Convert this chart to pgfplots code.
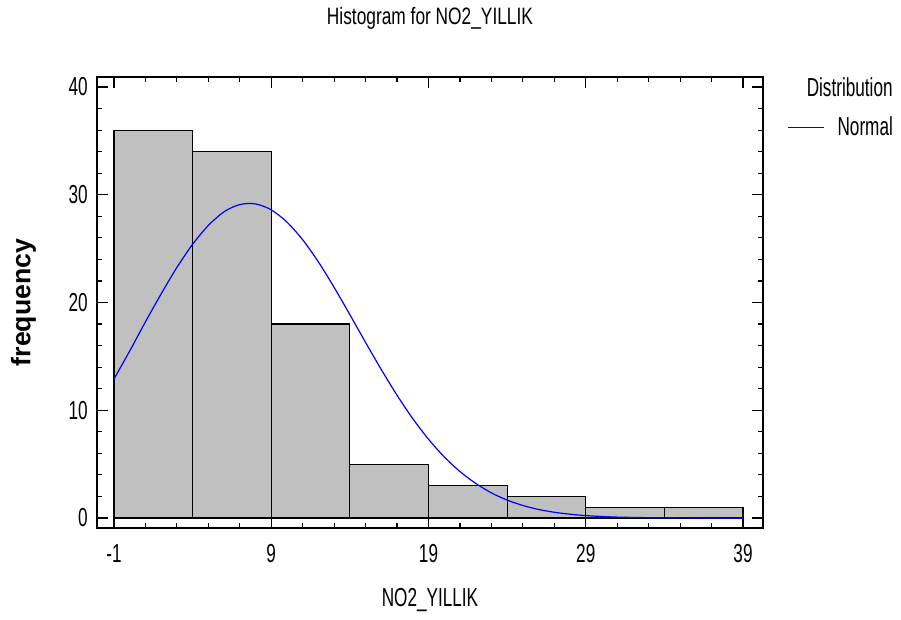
\documentclass[border=0pt]{standalone}
\usepackage{fontspec}
\setmainfont{Liberation Sans}[FakeStretch=0.66]
\newfontfamily\labfont{Liberation Sans}
\newfontfamily\titlefont{Liberation Sans}[FakeStretch=0.73]
\usepackage{pgfplots}
\pgfplotsset{compat=1.18}
\definecolor{bargray}{RGB}{192,192,192}
\begin{document}
\begin{tikzpicture}
\path[use as bounding box] (-72.75pt,-69pt) rectangle (603pt,396pt);
\begin{axis}[
  scale only axis,
  width=499.5pt, height=338.25pt,
  xmin=-2.08, xmax=40.27,
  ymin=-0.93, ymax=40.93,
  xtick={-1,9,19,29,39},
  ytick={0,10,20,30,40},
  minor x tick num=4,
  minor y tick num=4,
  major tick length=8pt,
  minor tick length=4pt,
  tick style={black, line width=0.9pt},
  axis line style={line width=1.5pt},
  tick align=inside,
  /pgf/number format/assume math mode=true,
  font=\fontsize{19.5}{22}\selectfont,
  xticklabel style={yshift=-9pt},
  yticklabel style={xshift=-3.4pt},
  every axis title shift=0pt,
  title={\titlefont\fontsize{17.8}{20}\selectfont Histogram for NO2\_YILLIK},
  title style={at={(axis description cs:0.5,1.1175)}, anchor=base, yshift=0pt},
  xlabel={NO2\_YILLIK},
  xlabel style={at={(axis description cs:0.5,-0.175)}, anchor=base},
  ylabel={\labfont\bfseries\fontsize{20}{22}\selectfont frequency},
  ylabel style={at={(axis description cs:-0.100,0.5)}, anchor=base},
  legend style={at={(axis description cs:1.195,0.888)}, anchor=east,
    draw=none, fill=none, inner sep=0pt, outer sep=0pt,
    nodes={inner sep=0pt},
    /tikz/every odd column/.append style={column sep=10pt}},
  legend image code/.code={\draw[#1, blue, line width=1pt] (0pt,0pt) -- (27pt,0pt);},
  clip=false,
]
\addplot[ybar interval, fill=bargray, draw=black, line width=0.9pt, forget plot]
  coordinates {(-1,36) (4,34) (9,18) (14,5) (19,3) (24,2) (29,1) (34,1) (39,1)};
\addplot[color=blue, draw=blue, line width=0.9pt, smooth] coordinates {
(-1,12.9) (0,15.5) (1,18.2) (2,20.8) (3,23.25) (4,25.4) (5,27.15) (6,28.42)
(7,29.09) (8,29.15) (9,28.60) (10,27.46) (11,25.82) (12,23.76) (13,21.40) (14,18.87)
(15,16.29) (16,13.77) (17,11.39) (18,9.22) (19,7.31) (20,5.67) (21,4.31) (22,3.21)
(23,2.33) (24,1.66) (25,1.16) (26,0.79) (27,0.53) (28,0.35) (29,0.22) (30,0.14)
(31,0.08) (32,0.05) (33,0.03) (34,0.02) (35,0.01) (36,0.005) (37,0.003) (38,0.001) (39,0.0005)};
\addlegendentry{Normal}
\node[anchor=base east, inner sep=0pt] at (axis description cs:1.195,0.9557) {Distribution};
\end{axis}
\end{tikzpicture}
\end{document}
